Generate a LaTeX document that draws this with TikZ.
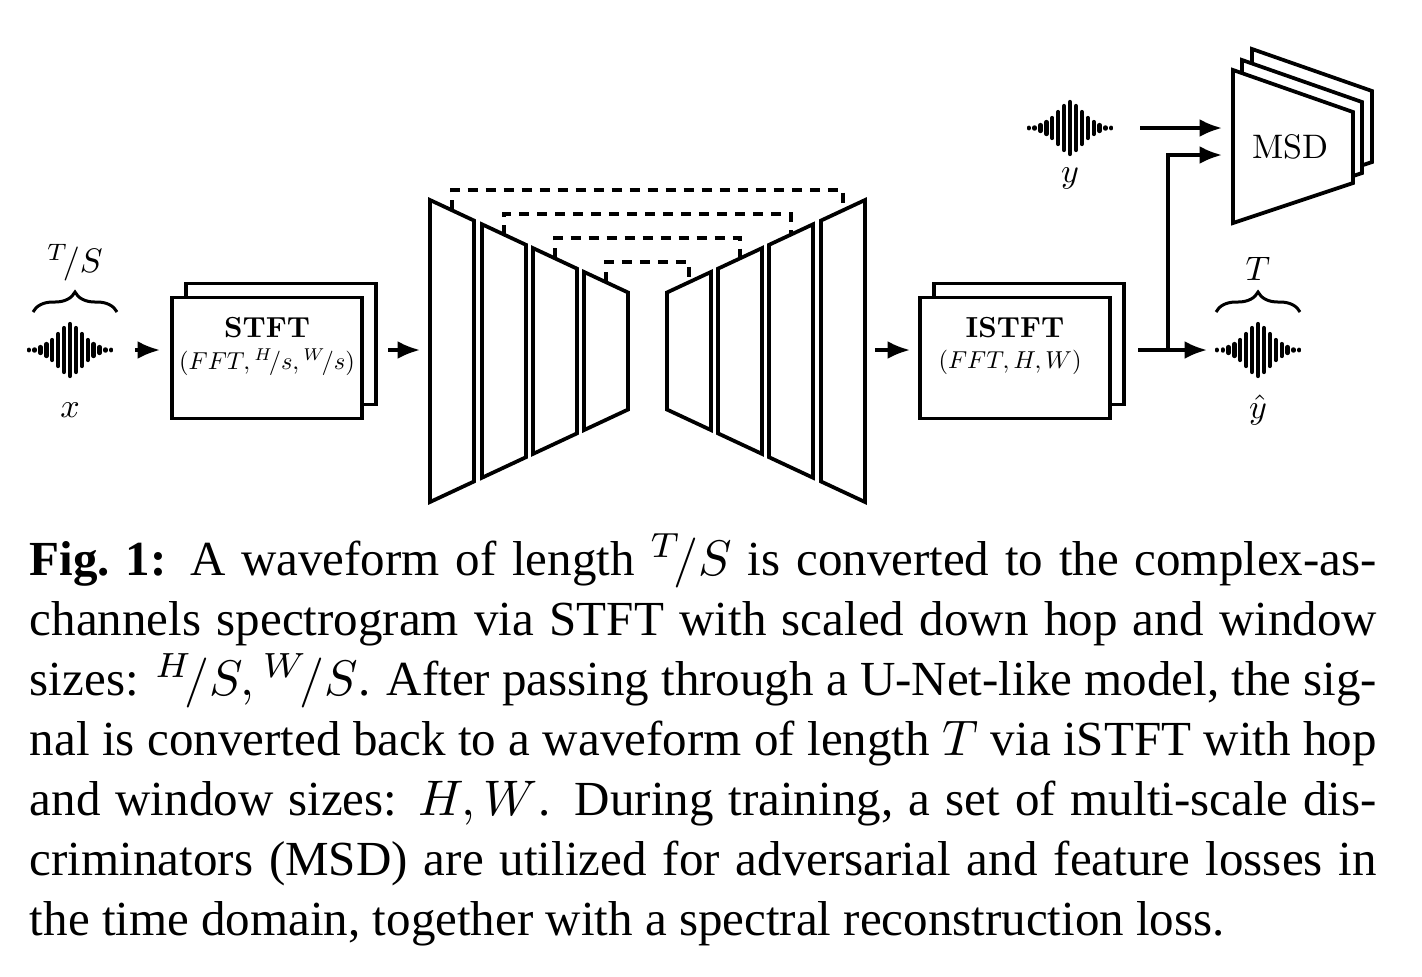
\documentclass[tikz,border=0pt]{standalone}
\usepackage{fontspec}
\setmainfont{Liberation Serif}
\newfontfamily\lmfont{Latin Modern Roman}
\usetikzlibrary{positioning, calc, arrows.meta, decorations.pathreplacing}

\begin{document}
\begin{tikzpicture}[x=0.2pt, y=-0.2pt, >={Latex[length=4.5pt,width=3.6pt]},
    line width=0.75pt,
    lbl/.style={font=\lmfont, inner sep=0pt, scale=0.49, transform shape},
    var/.style={font=\lmfont, inner sep=0pt, scale=0.68, transform shape},
    head/.style={font=\lmfont\bfseries, inner sep=0pt, scale=0.58, transform shape},
    block/.style={draw, fill=white, line width=0.75pt, minimum width=190*0.2pt,
      minimum height=121*0.2pt, inner sep=0pt},
    skip/.style={dashed, dash pattern=on 2pt off 1.6pt, line width=0.7pt},
    flow/.style={->, line width=0.7pt},
    wave/.pic={
      \foreach \i/\h in {-7/0.3,-6/0.6,-5/3,-4/6,-3/10,-2/16,-1/22,0/26,1/22,2/16,3/10,4/6,5/3,6/0.6,7/0.3}
        \draw[line width=0.85pt, line cap=round] (\i*5.9,-\h) -- (\i*5.9,\h);
    }]
  \useasboundingbox (0,0) rectangle (1422,976);

  % input waveform
  \pic at (70,350) {wave};
  \draw[decorate, decoration={brace, amplitude=4pt}, line width=0.6pt]
    (33,312) -- node[var, above=6pt] (tlen) {$^{T}\!/S$} (117,312);
  \node[var] (xlab) at (70,410) {$x$};

  % STFT
  \node[block] (stftb) at (281,344) {};
  \node[block] (stft) at (267,358) {};
  \node[head] (stftt) at (267,328) {STFT};
  \node[lbl] (stfts) at (267,362) {$(FFT, {}^{H}\!/s, {}^{W}\!/s)$};

  % U-Net
  \foreach \l [count=\k] in {430,482,533,584} {
    \pgfmathsetmacro\r{\l+44}
    \pgfmathsetmacro\ml{1295-\l}
    \pgfmathsetmacro\mr{1295-\r}
    \draw[fill=white] (\l,{351-151+0.467*(\l-430)}) -- (\r,{351-151+0.467*(\r-430)})
      -- (\r,{351+151-0.467*(\r-430)}) -- (\l,{351+151-0.467*(\l-430)}) -- cycle;
    \draw[fill=white] (\ml,{351-151+0.467*(\l-430)}) -- (\mr,{351-151+0.467*(\r-430)})
      -- (\mr,{351+151-0.467*(\r-430)}) -- (\ml,{351+151-0.467*(\l-430)}) -- cycle;
    \pgfmathsetmacro\c{\l+22}
    \pgfmathsetmacro\mc{1295-\c}
    \pgfmathsetmacro\yy{190+24*(\k-1)}
    \draw[skip] (\c,{351-151+0.467*(\c-430)}) -- (\c,\yy) -- (\mc,\yy)
      -- (\mc,{351-151+0.467*(\c-430)});
  }
  \coordinate (unetin) at (420,350);
  \coordinate (unetout) at (875,350);

  % ISTFT
  \node[block] (istftb) at (1029,344) {};
  \node[block] (istft) at (1015,358) {};
  \node[head] (istftt) at (1015,328) {ISTFT};
  \node[lbl] (istfts) at (1010,362) {$(FFT, H, W)$};

  % output waveform
  \pic at (1258,350) {wave};
  \coordinate (yout) at (1207,350);
  \draw[decorate, decoration={brace, amplitude=4pt}, line width=0.6pt]
    (1216,312) -- node[var, above=6pt] (tout) {$T$} (1300,312);
  \node[var] (yhat) at (1258,410) {$\hat{y}$};

  % target waveform
  \pic at (1070,128) {wave};
  \node[var] (ylab) at (1070,178) {$y$};

  % MSD
  \foreach \dx/\dy in {19/-21, 9/-10, 0/0}
    \draw[fill=white] (1233+\dx,70+\dy) -- (1353+\dx,112+\dy) -- (1353+\dx,183+\dy)
      -- (1233+\dx,223+\dy) -- cycle;
  \node[var] (msd) at (1290,147) {MSD};
  \coordinate (msdin1) at (1222,128);
  \coordinate (msdin2) at (1222,155);

  % connectors
  \draw[flow] (135,350) -- (160,350);
  \draw[flow] (388,350) -- (unetin);
  \draw[flow] (unetout) -- (910,350);
  \draw[flow] (1138,350) -- (yout);
  \draw[flow] (1168,350) -- (1168,155) -- (msdin2);
  \draw[flow] (1140,128) -- (msdin1);

  % caption
  \node[anchor=north west, text width=269.4pt, align=justify, inner sep=0pt,
        font=\fontsize{9.8}{12}\selectfont] (cap) at (28,532) {%
    \textbf{Fig.\ 1:} A waveform of length ${}^{T}\!/S$ is converted to the complex-as-\linebreak
    channels spectrogram via STFT with scaled down hop and window\linebreak
    sizes: ${}^{H}\!/S, {}^{W}\!/S$. After passing through a U-Net-like model, the sig-\linebreak
    nal is converted back to a waveform of length $T$ via iSTFT with hop\linebreak
    and window sizes: $H, W$. During training, a set of multi-scale dis-\linebreak
    criminators (MSD) are utilized for adversarial and feature losses in\linebreak
    the time domain, together with a spectral reconstruction loss.};
\end{tikzpicture}
\end{document}
